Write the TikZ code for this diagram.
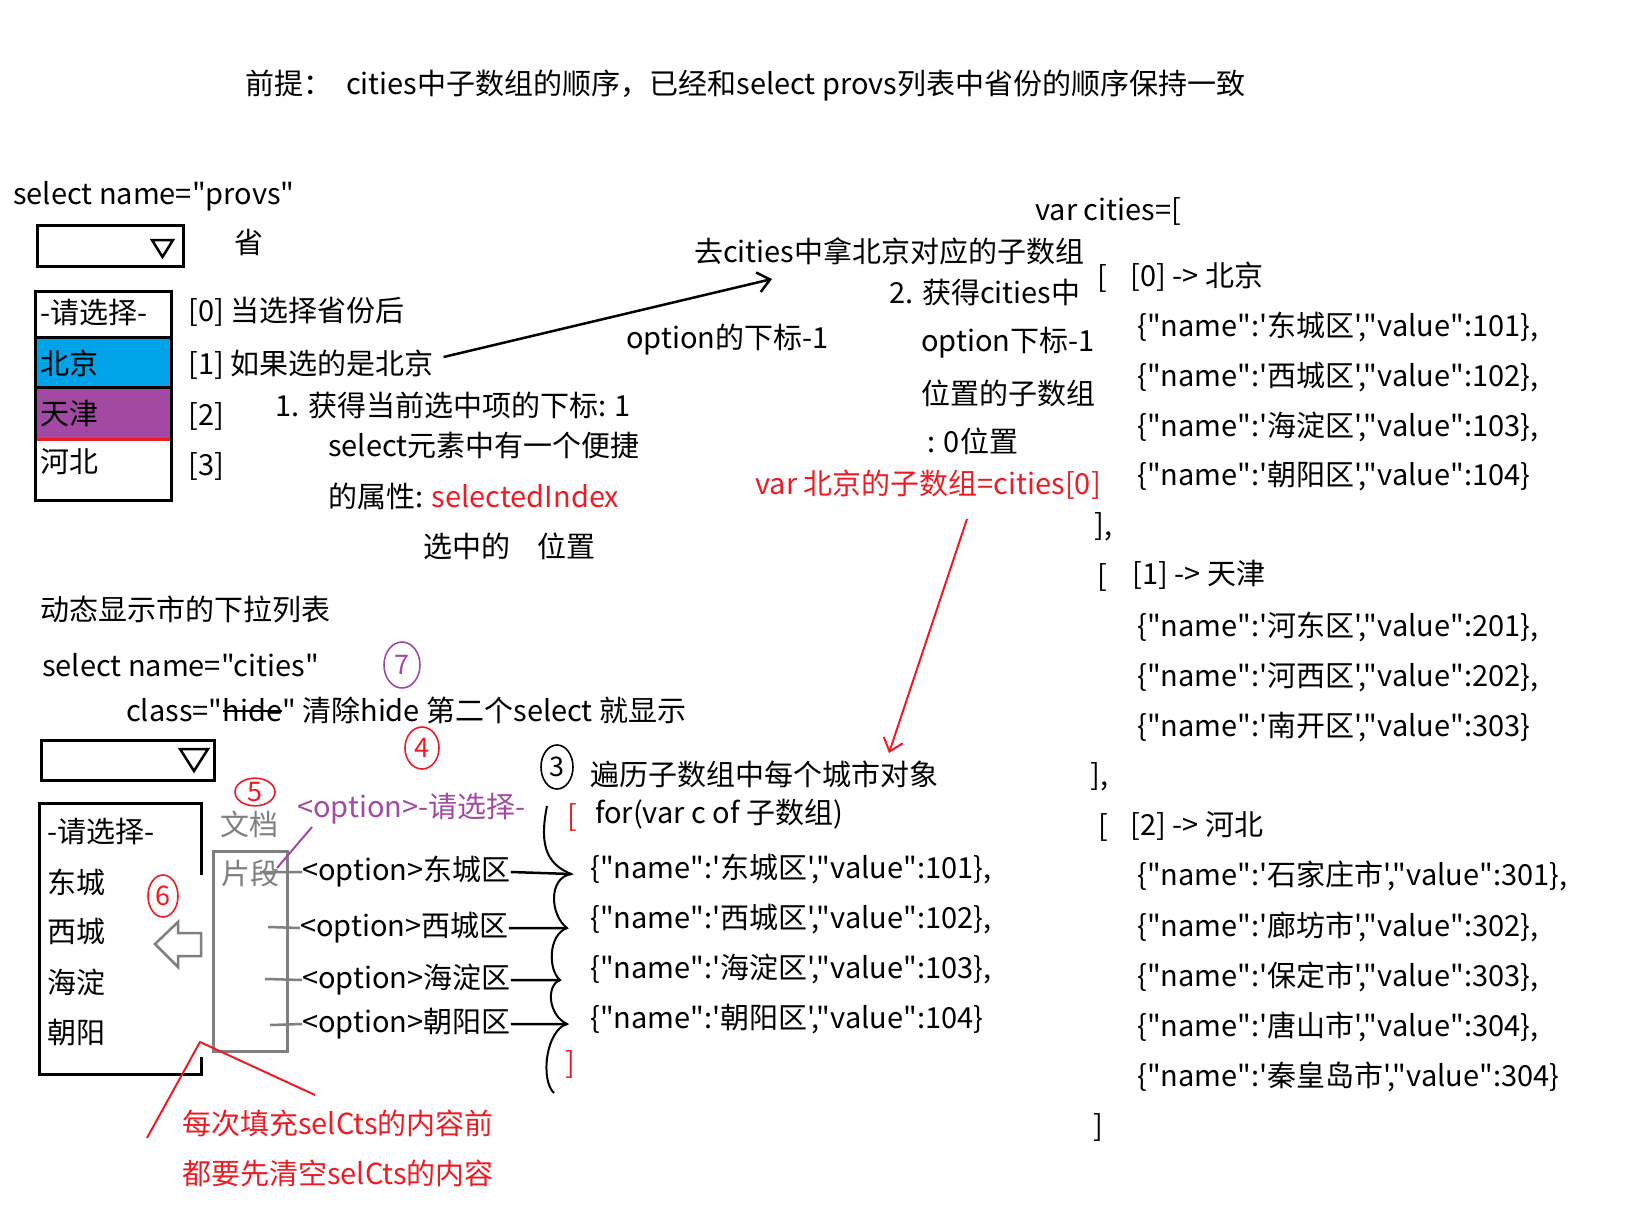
\documentclass[tikz,border=0pt]{standalone}
\usepackage{fontspec}
\setmainfont{Noto Sans CJK SC}
\newfontfamily\cjkf{Noto Sans CJK SC}
\usetikzlibrary{shapes.geometric,arrows.meta}
\definecolor{paintblue}{RGB}{0,162,232}
\definecolor{paintpurple}{RGB}{163,73,164}
\definecolor{paintred}{RGB}{237,28,36}
\definecolor{paintgray}{RGB}{127,127,127}
\newcommand{\jrow}[2]{\{"name":'#1',"value":#2}
\newcommand{\strk}[1]{\setbox0\hbox{#1}\rlap{\rule[0.32em]{\wd0}{2pt}}\box0}

\begin{document}
\begin{tikzpicture}[x=1pt, y=-1pt, >={Straight Barb[length=12pt,width=20pt]},
  every node/.style={font=\cjkf\fontsize{29}{32}\selectfont, inner sep=0pt, anchor=west},
  box/.style={line width=3pt},
  numc/.style={draw, ellipse, line width=1.6pt, anchor=center, minimum width=#1*1pt,
    font=\cjkf\fontsize{27}{27}\selectfont},
  numc/.default=30]
 \useasboundingbox (0,0) rectangle (1636,1228);
 \node (title) at (245,86) {前提：\hspace{14pt}cities中子数组的顺序，已经和select provs列表中省份的顺序保持一致};

 % select provs
 \node (selp) at (13,196) {select name="provs"};
 \draw[box] (37,225) rectangle (183,266);
 \draw[line width=2.5pt] (152,240) -- (173,240) -- (162.5,257) -- cycle;
 \node (sheng) at (234,242) {省};
 \fill[paintblue] (35,337) rectangle (171,387);
 \fill[paintpurple] (35,387) rectangle (171,439);
 \draw[box] (35,291) rectangle (171,500);
 \draw[box] (35,337) -- (171,337) (35,387) -- (171,387);
 \draw[paintred, line width=3pt] (36.5,439) -- (169.5,439);
 \node (p0) at (40,313) {-请选择-};
 \node (p1) at (40,363) {北京};
 \node (p2) at (40,413) {天津};
 \node (p3) at (40,462) {河北};
 \node (i0) at (188,312) {[0] 当选择省份后};
 \node (i1) at (188,365) {[1] 如果选的是北京};
 \node (i2) at (188,416) {[2]};
 \node (i3) at (188,466) {[3]};
 \node (s1) at (275,405) {1. 获得当前选中项的下标: 1};
 \node (s2) at (328,446) {select元素中有一个便捷};
 \node (s3) at (328,496) {的属性: \textcolor{paintred}{selectedIndex}};
 \node (s4) at (423,546) {选中的\hspace{27pt}位置};

 % step 2
 \coordinate (ah) at (772,279);
 \draw[->, line width=2.5pt] (i1.east) ++(10,-8) -- (ah);
 \node (go) at (694,251) {去cities中拿北京对应的子数组};
 \node (om1) at (626,340) {option的下标-1};
 \node (g1) at (889,293) {2. 获得cities中};
 \node (g2) at (921,343) {option下标-1};
 \node (g3) at (921,393) {位置的子数组};
 \node (g4) at (927,441) {: 0位置};
 \node[text=paintred] (vbj) at (755,485) {var 北京的子数组=cities[0]};
 \coordinate (rt) at (889,753);
 \draw[->, paintred, line width=2pt] (967,519) -- (rt);

 % cities
 \node (vc) at (1035,211) {var cities=[};
 \node (ob0) at (1097,278) {[};
 \node (k0) at (1130,277) {[0] -> 北京};
 \node (c01) at (1137,327) {\jrow{东城区}{101\},}};
 \node (c02) at (1137,377) {\jrow{西城区}{102\},}};
 \node (c03) at (1137,427) {\jrow{海淀区}{103\},}};
 \node (c04) at (1137,476) {\jrow{朝阳区}{104\}}};
 \node (cb0) at (1094,527) {],};
 \node (ob1) at (1097,577) {[};
 \node (k1) at (1132,575) {[1] -> 天津};
 \node (c11) at (1137,627) {\jrow{河东区}{201\},}};
 \node (c12) at (1137,677) {\jrow{河西区}{202\},}};
 \node (c13) at (1137,727) {\jrow{南开区}{303\}}};
 \node (cb1) at (1090,777) {],};
 \node (ob2) at (1098,827) {[};
 \node (k2) at (1130,826) {[2] -> 河北};
 \node (c21) at (1137,876) {\jrow{石家庄市}{301\},}};
 \node (c22) at (1137,927) {\jrow{廊坊市}{302\},}};
 \node (c23) at (1137,977) {\jrow{保定市}{303\},}};
 \node (c24) at (1137,1027) {\jrow{唐山市}{304\},}};
 \node (c25) at (1137,1077) {\jrow{秦皇岛市}{304\}}};
 \node (cb2) at (1093,1127) {]};

 % select cities
 \node (dyn) at (40,609) {动态显示市的下拉列表};
 \node (selc) at (42,665) {select name="cities"};
 \node (cls) at (126,710) {class="\strk{hide}" 清除hide 第二个select 就显示};
 \node[numc=36, paintpurple, minimum height=46pt] (n7) at (402,665) {7};
 \node[numc=34, paintred, minimum height=42pt] (n4) at (422,748) {4};
 \draw[box] (41,740) rectangle (214,780);
 \draw[line width=2.5pt] (180,749) -- (208,749) -- (194,771) -- cycle;
 \node[numc=40, paintred, minimum height=26pt] (n5) at (255,792) {5};
 \draw[box] (201,875) -- (201,803) -- (39,803) -- (39,1074) -- (201,1074) -- (201,1057);
 \node (q0) at (47,832) {-请选择-};
 \node (q1) at (47,882) {东城};
 \node (q2) at (47,932) {西城};
 \node (q3) at (47,982) {海淀};
 \node (q4) at (47,1032) {朝阳};
 \node[numc=30, paintred, minimum height=42pt] (n6) at (163,896) {6};
 \draw[paintgray, line width=2.5pt] (155,944) -- (178,922) -- (178,933) -- (201,933)
   -- (201,956) -- (178,956) -- (178,967) -- cycle;
 \node[text=paintgray] (doc) at (220,824) {文档};
 \draw[paintgray, line width=3pt] (213,851) rectangle (287,1051);
 \node[text=paintgray] (frag) at (221,873) {片段};
 \node[text=paintpurple] (oph) at (297,809) {<option>-请选择-};
 \draw[paintpurple, line width=2pt] (312,827) -- (277,868);
 \node (o1) at (302,872) {<option>东城区};
 \node (o2) at (300,928) {<option>西城区};
 \node (o3) at (302,980) {<option>海淀区};
 \node (o4) at (302,1024) {<option>朝阳区};
 \draw[paintgray, line width=2.5pt] (260,872) -- (o1.west) (268,927) -- (o2.west)
   (265,979) -- (o3.west) (270,1025) -- (o4.west);

 % loop
 \node[numc=32, minimum height=44pt] (n3) at (557,767) {3};
 \node (loop) at (590,774) {遍历子数组中每个城市对象};
 \node[text=paintred] (lb) at (567,817) {[};
 \node (for) at (595,814) {for(var c of 子数组)};
 \node (d1) at (590,869) {\jrow{东城区}{101\},}};
 \node (d2) at (590,919) {\jrow{西城区}{102\},}};
 \node (d3) at (590,969) {\jrow{海淀区}{103\},}};
 \node (d4) at (590,1019) {\jrow{朝阳区}{104\}}};
 \node[text=paintred] (rb) at (565,1064) {]};
 \coordinate (t1) at (571,874);
 \coordinate (t2) at (567,928);
 \coordinate (t3) at (560,980);
 \coordinate (t4) at (567,1024);
 \draw[line width=2pt] (547,806) .. controls (538,850) and (550,865) .. (t1)
   .. controls (548,878) and (550,915) .. (t2)
   .. controls (548,935) and (548,970) .. (t3)
   .. controls (546,985) and (548,1015) .. (t4)
   .. controls (546,1030) and (540,1080) .. (554,1093);
 \draw[line width=2.5pt] (o1.east) -- (t1) (o2.east) -- (t2) (o3.east) -- (t3) (o4.east) -- (t4);

 % clear
 \coordinate (cl) at (200,1042);
 \draw[paintred, line width=2pt] (147,1138) -- (cl) -- (315,1095);
 \node[text=paintred] (r1) at (182,1123) {每次填充selCts的内容前};
 \node[text=paintred] (r2) at (182,1173) {都要先清空selCts的内容};
\end{tikzpicture}
\end{document}
